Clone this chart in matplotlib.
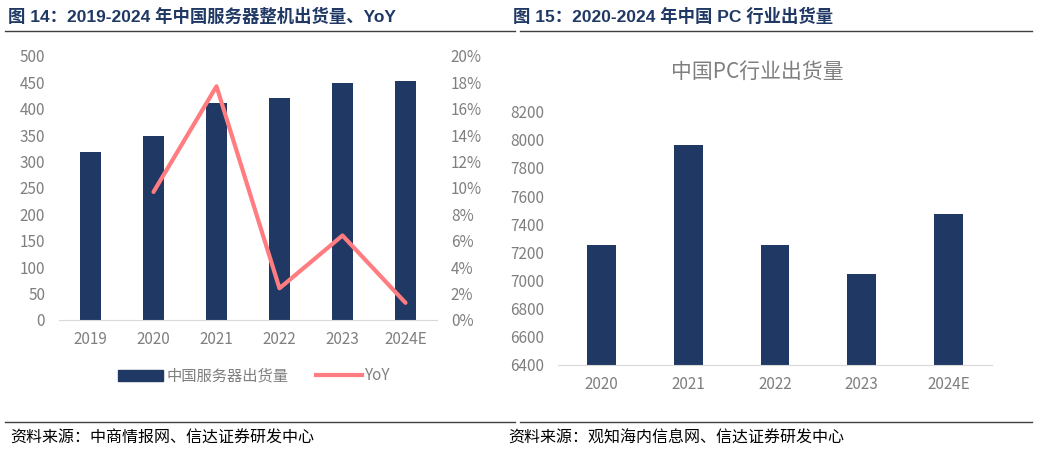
import matplotlib.pyplot as plt
from matplotlib.lines import Line2D
from matplotlib.patches import Patch

plt.rcParams["font.family"] = ["Noto Sans CJK SC", "DejaVu Sans"]

# ------------------------------------------------------------
# 数据
# ------------------------------------------------------------
server_years = ["2019", "2020", "2021", "2022", "2023", "2024E"]
server_shipments = [318, 349, 411, 420, 448, 453]
server_yoy = [None, 9.7, 17.7, 2.4, 6.4, 1.3]   # %

pc_years = ["2020", "2021", "2022", "2023", "2024E"]
pc_shipments = [7250, 7965, 7250, 7044, 7475]

NAVY = "#203864"
PINK = "#FF7C80"
GRAY = "#7F7F7F"
TITLE_C = "#1F3864"
HEAD_FONT = ["Liberation Sans", "Noto Sans CJK SC"]

fig = plt.figure(figsize=(10.37, 4.51), dpi=100)

# ------------------------------------------------------------
# 图 14
# ------------------------------------------------------------
ax1 = fig.add_axes([0.0569, 0.2905, 0.3645, 0.5854])
x1 = list(range(len(server_years)))
ax1.bar(x1, server_shipments, width=0.33, color=NAVY, zorder=2)
ax1.set_xlim(-0.5, len(server_years) - 0.5)
ax1.set_ylim(0, 500)
ax1.set_yticks(range(0, 501, 50))
ax1.set_xticks(x1)
ax1.set_xticklabels(server_years)

ax2 = ax1.twinx()
yx = [i for i, v in zip(x1, server_yoy) if v is not None]
yv = [v for v in server_yoy if v is not None]
ax2.plot(yx, yv, color=PINK, linewidth=3, solid_capstyle="round", zorder=3)
ax2.set_ylim(0, 20)
ax2.set_yticks(range(0, 21, 2))
ax2.set_yticklabels([f"{v}%" for v in range(0, 21, 2)])

for ax in (ax1, ax2):
    for s in ax.spines.values():
        s.set_visible(False)
    ax.tick_params(length=0, colors=GRAY, labelsize=11)
ax1.spines["bottom"].set_visible(True)
ax1.spines["bottom"].set_color("#D9D9D9")
ax1.tick_params(axis="y", pad=10)
ax1.tick_params(axis="x", pad=8)
ax2.tick_params(axis="y", pad=10)

fig.legend(
    handles=[Patch(color=NAVY, label="中国服务器出货量"),
             Line2D([], [], color=PINK, linewidth=3, label="YoY")],
    loc="center", bbox_to_anchor=(254 / 1037, 1 - 376 / 451),
    ncol=2, frameon=False, fontsize=11, labelcolor=GRAY,
    handlelength=3, handletextpad=0.2, columnspacing=1.8,
)

# ------------------------------------------------------------
# 图 15
# ------------------------------------------------------------
ax3 = fig.add_axes([0.5381, 0.1907, 0.4185, 0.5617])
x3 = list(range(len(pc_years)))
ax3.bar(x3, pc_shipments, width=0.33, color=NAVY, zorder=2)
ax3.set_xlim(-0.5, len(pc_years) - 0.5)
ax3.set_ylim(6400, 8200)
ax3.set_yticks(range(6400, 8201, 200))
ax3.set_xticks(x3)
ax3.set_xticklabels(pc_years)
for s in ax3.spines.values():
    s.set_visible(False)
ax3.spines["bottom"].set_visible(True)
ax3.spines["bottom"].set_color("#D9D9D9")
ax3.tick_params(length=0, colors=GRAY, labelsize=11)
ax3.tick_params(axis="y", pad=10)
ax3.tick_params(axis="x", pad=8)
fig.text(757 / 1037, 1 - 72 / 451, "中国PC行业出货量", ha="center", va="center",
         fontsize=15, color=GRAY)

# ------------------------------------------------------------
# 标题、分隔线、资料来源
# ------------------------------------------------------------
fig.text(8 / 1037, 1 - 16 / 451, "图 14：2019-2024 年中国服务器整机出货量、YoY",
         ha="left", va="center", fontsize=12.5, fontweight="bold",
         color=TITLE_C, family=HEAD_FONT)
fig.text(513 / 1037, 1 - 16 / 451, "图 15：2020-2024 年中国 PC 行业出货量",
         ha="left", va="center", fontsize=12.5, fontweight="bold",
         color=TITLE_C, family=HEAD_FONT)

for y in (31, 422):
    fig.add_artist(Line2D([5 / 1037, 515 / 1037], [1 - y / 451] * 2,
                          color="#404040", linewidth=1.0))
    fig.add_artist(Line2D([520 / 1037, 1032 / 1037], [1 - y / 451] * 2,
                          color="#404040", linewidth=1.0))

fig.text(10 / 1037, 1 - 438 / 451, "资料来源：中商情报网、信达证券研发中心",
         ha="left", va="center", fontsize=11.5, color="#000000")
fig.text(508 / 1037, 1 - 438 / 451, "资料来源：观知海内信息网、信达证券研发中心",
         ha="left", va="center", fontsize=11.5, color="#000000")

fig.savefig("out.png", dpi=100)
